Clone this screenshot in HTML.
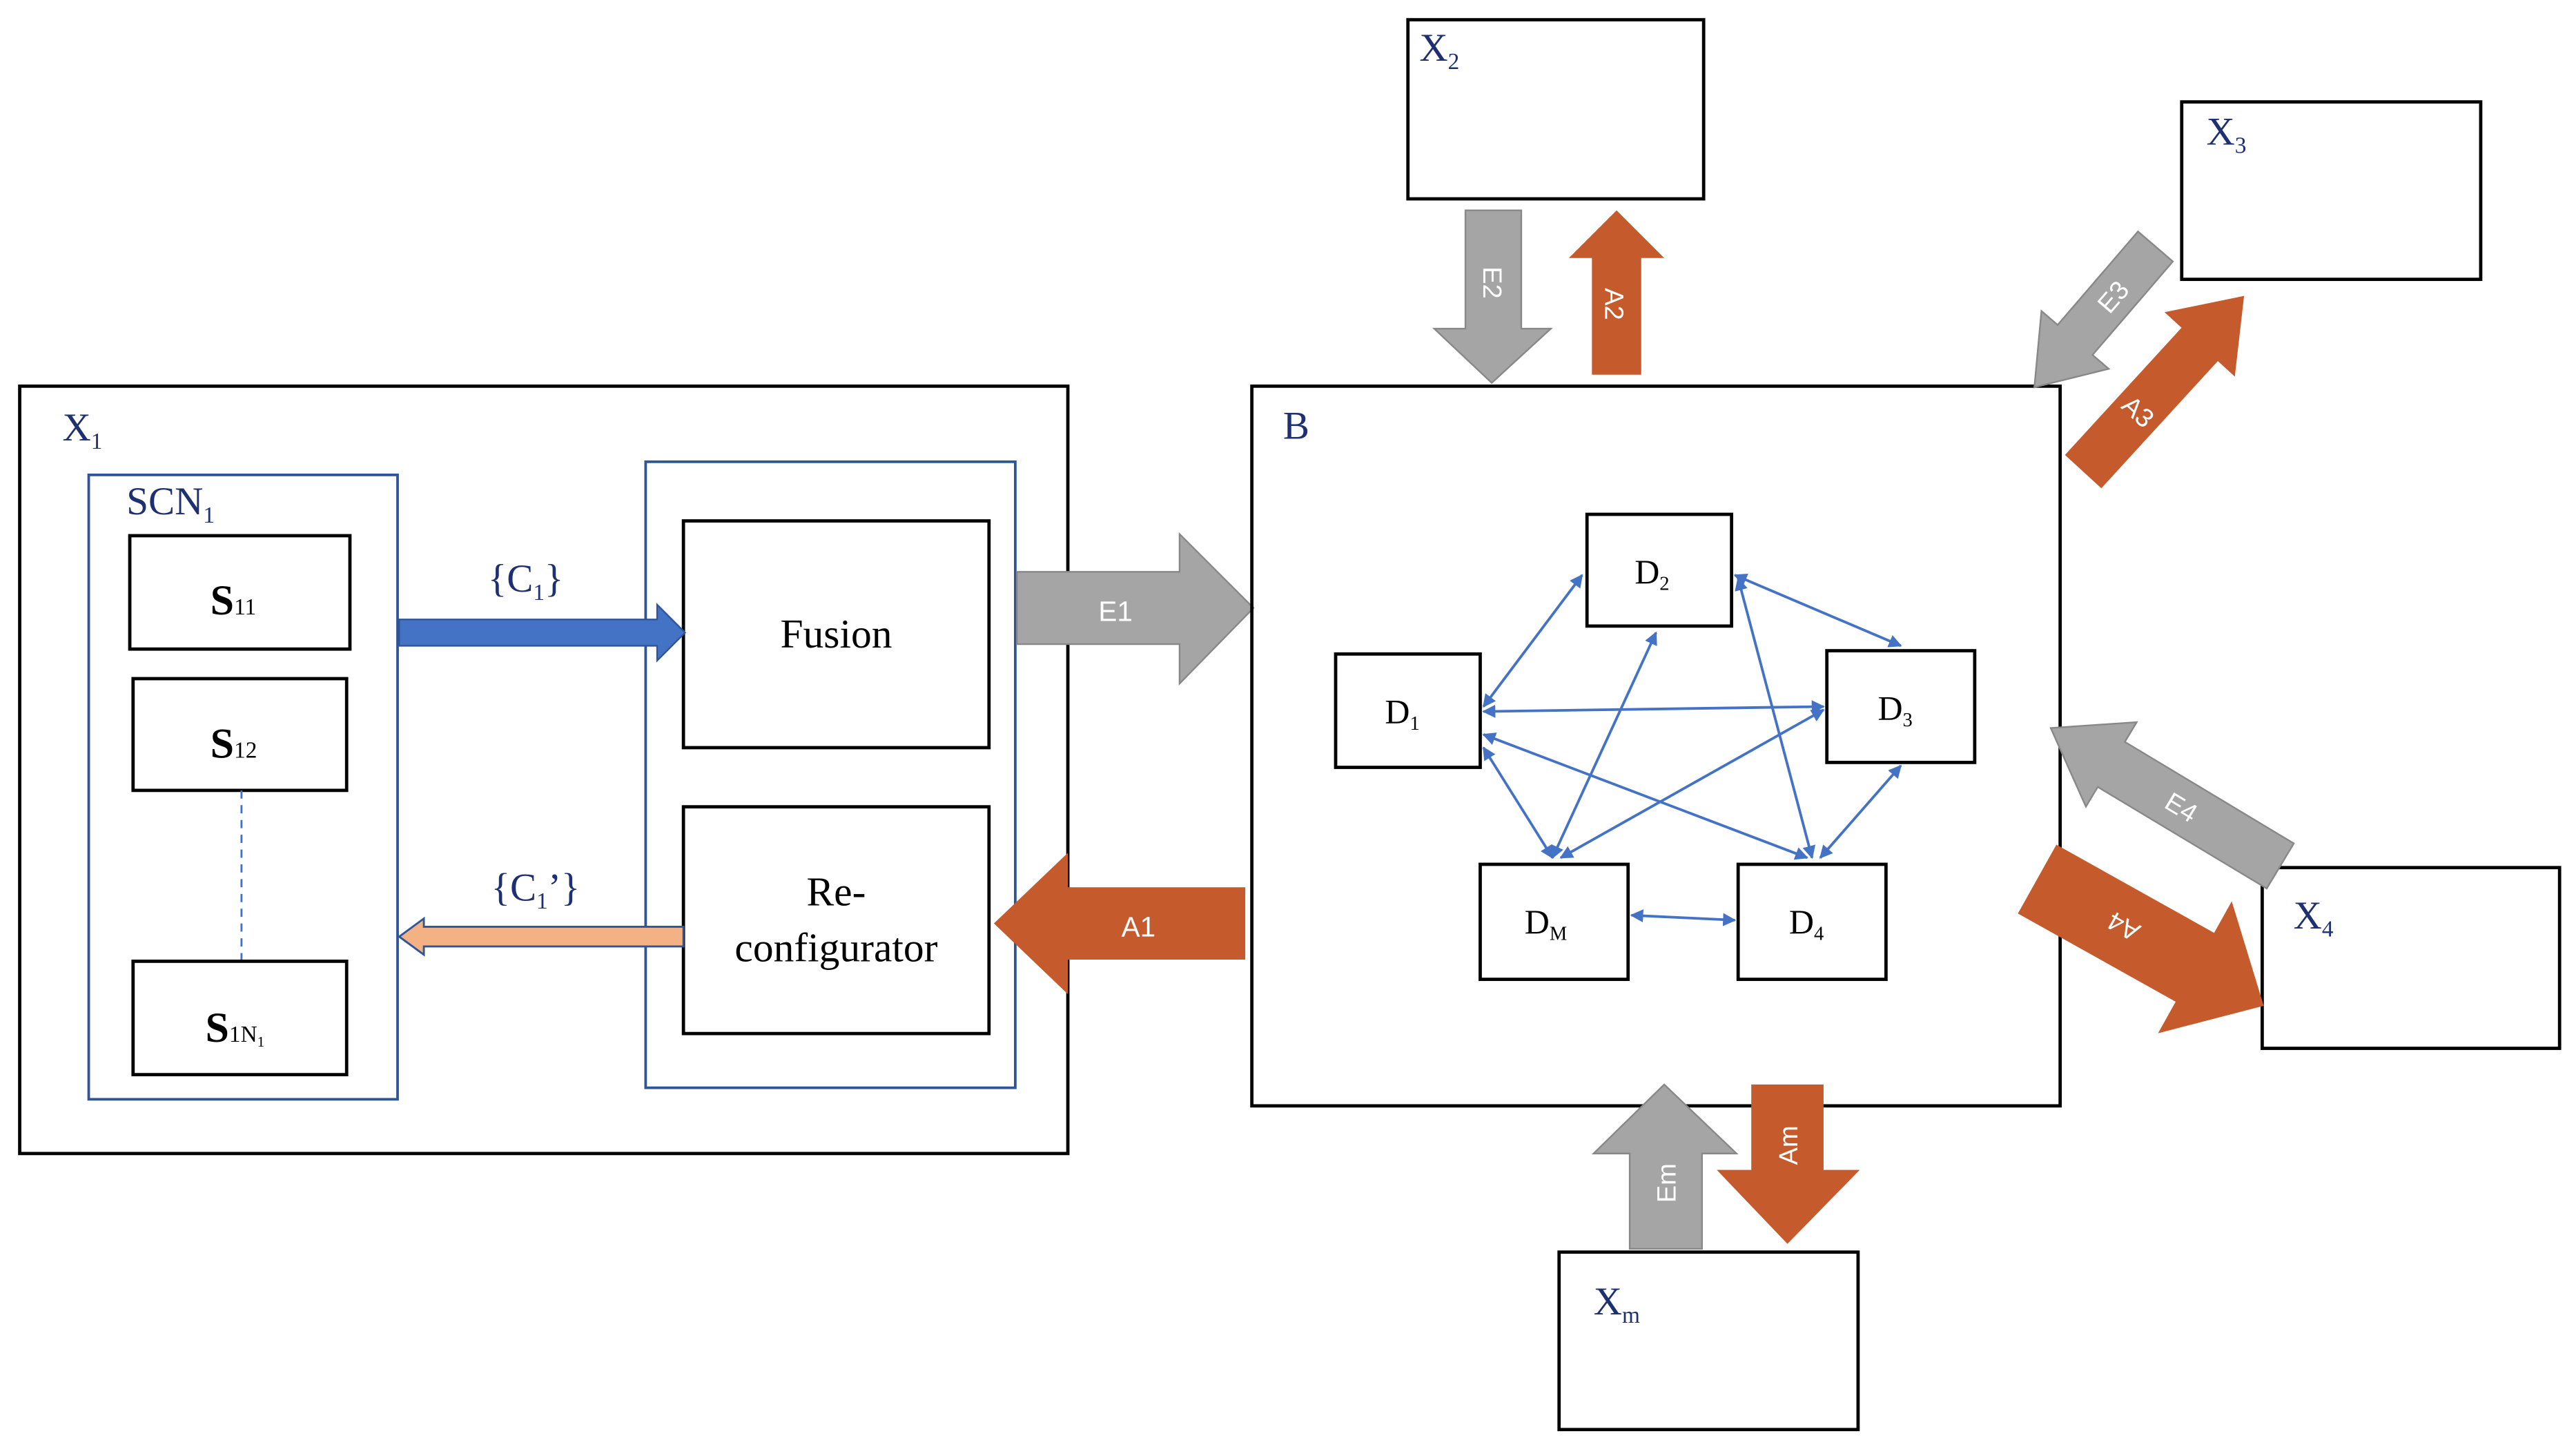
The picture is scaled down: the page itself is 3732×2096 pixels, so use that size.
<!DOCTYPE html>
<html><head><meta charset="utf-8"><style>html,body{margin:0;padding:0;background:#fff}svg{display:block}</style></head>
<body>
<svg width="3732" height="2096" viewBox="0 0 1568 880.6" xmlns="http://www.w3.org/2000/svg" font-family="'Liberation Serif', serif">
<defs>
<marker id="ah" viewBox="0 0 10 10" refX="9" refY="5" markerWidth="5" markerHeight="5" orient="auto-start-reverse"><path d="M0,0 L10,5 L0,10 z" fill="#4472C4"/></marker>
</defs>
<rect width="1568" height="880.6" fill="#fff"/>
<!-- X1 -->
<rect x="12" y="235" width="638" height="467" fill="none" stroke="#000" stroke-width="2"/>
<text x="38" y="268" font-size="24" fill="#1F3070">X<tspan font-size="14" dy="5">1</tspan></text>
<rect x="54" y="289" width="188" height="380" fill="none" stroke="#2F5597" stroke-width="1.6"/>
<text x="77" y="313" font-size="24" fill="#1F3070">SCN<tspan font-size="14" dy="5">1</tspan></text>
<rect x="79" y="326" width="134" height="69" fill="none" stroke="#000" stroke-width="2"/>
<text x="128" y="374" font-size="26" font-weight="bold">S<tspan font-size="14" font-weight="normal">11</tspan></text>
<rect x="81" y="413" width="130" height="68" fill="none" stroke="#000" stroke-width="2"/>
<text x="128" y="461" font-size="26" font-weight="bold">S<tspan font-size="14" font-weight="normal">12</tspan></text>
<line x1="147" y1="481" x2="147" y2="585" stroke="#4472C4" stroke-width="1.2" stroke-dasharray="5,4"/>
<rect x="81" y="585" width="130" height="69" fill="none" stroke="#000" stroke-width="2"/>
<text x="125" y="634" font-size="26" font-weight="bold">S<tspan font-size="14" font-weight="normal">1N<tspan font-size="9" dy="3">1</tspan></tspan></text>
<rect x="393" y="281" width="225" height="381" fill="none" stroke="#2F5597" stroke-width="1.6"/>
<rect x="416" y="317" width="186" height="138" fill="none" stroke="#000" stroke-width="2"/>
<text x="509" y="394" font-size="25" text-anchor="middle">Fusion</text>
<rect x="416" y="491" width="186" height="138" fill="none" stroke="#000" stroke-width="2"/>
<text x="509" y="551" font-size="25" text-anchor="middle">Re-</text>
<text x="509" y="585" font-size="25" text-anchor="middle">configurator</text>
<!-- C1 arrow -->
<polygon points="243,377 400,377 400,368 417,385 400,402 400,393 243,393" fill="#4472C4" stroke="#2F5597" stroke-width="1"/>
<text x="297" y="360" font-size="24" fill="#1F3070">{C<tspan font-size="14" dy="5">1</tspan><tspan dy="-5">}</tspan></text>
<polygon points="416,564 258,564 258,559 243,570 258,581 258,576 416,576" fill="#F4B183" stroke="#2F5597" stroke-width="1.2"/>
<text x="299" y="548" font-size="24" fill="#1F3070">{C<tspan font-size="14" dy="5">1</tspan><tspan dy="-5">’}</tspan></text>
<!-- E1 -->
<polygon points="619,348 718,348 718,325 763,370 718,416 718,392 619,392" fill="#A5A5A5" stroke="#888" stroke-width="1"/>
<text x="679" y="378" font-size="17" fill="#fff" font-family="'Liberation Sans', sans-serif" text-anchor="middle">E1</text>
<!-- A1 -->
<polygon points="758,540 650,540 650,519 605,562 650,605 650,584 758,584" fill="#C55A2D"/>
<text x="693" y="570" font-size="17" fill="#fff" font-family="'Liberation Sans', sans-serif" text-anchor="middle">A1</text>
<!-- B -->
<rect x="762" y="235" width="492" height="438" fill="none" stroke="#000" stroke-width="2"/>
<text x="781" y="267" font-size="24" fill="#1F3070">B</text>
<!-- X2 -->
<rect x="857" y="12" width="180" height="109" fill="none" stroke="#000" stroke-width="2"/>
<text x="864" y="37" font-size="24" fill="#1F3070">X<tspan font-size="14" dy="5">2</tspan></text>
<polygon points="892,128 926,128 926,200 944,200 908,233 873,200 892,200" fill="#A5A5A5" stroke="#888" stroke-width="1"/>
<text transform="translate(903,172) rotate(90)" font-size="16" fill="#fff" font-family="'Liberation Sans', sans-serif" text-anchor="middle">E2</text>
<polygon points="969,228 999,228 999,157 1013,157 984,128 955,157 969,157" fill="#C55A2D"/>
<text transform="translate(977,185) rotate(90)" font-size="16" fill="#fff" font-family="'Liberation Sans', sans-serif" text-anchor="middle">A2</text>
<!-- X3 -->
<rect x="1328" y="62" width="182" height="108" fill="none" stroke="#000" stroke-width="2"/>
<text x="1343" y="88" font-size="24" fill="#1F3070">X<tspan font-size="14" dy="5">3</tspan></text>
<g transform="translate(1312,150) rotate(130.7)">
<polygon points="0,-14 75,-14 75,-27 113,0 75,27 75,14 0,14" fill="#A5A5A5" stroke="#888" stroke-width="1"/>
<text x="40" y="6" font-size="16" fill="#fff" font-family="'Liberation Sans', sans-serif" text-anchor="middle" transform="rotate(180,40,0)">E3</text>
</g>
<g transform="translate(1268,287) rotate(-47.5)">
<polygon points="0,-15 105,-15 105,-29 145,0 105,29 105,15 0,15" fill="#C55A2D"/>
<text x="50" y="6" font-size="16" fill="#fff" font-family="'Liberation Sans', sans-serif" text-anchor="middle" transform="rotate(90,50,0)">A3</text>
</g>
<!-- X4 -->
<rect x="1377" y="528" width="181" height="110" fill="none" stroke="#000" stroke-width="2"/>
<text x="1396" y="565" font-size="24" fill="#1F3070">X<tspan font-size="14" dy="5">4</tspan></text>
<g transform="translate(1388,527) rotate(211)">
<polygon points="0,-16 120,-16 120,-30 163,0 120,30 120,16 0,16" fill="#A5A5A5" stroke="#888" stroke-width="1"/>
<text x="70" y="6" font-size="16" fill="#fff" font-family="'Liberation Sans', sans-serif" text-anchor="middle" transform="rotate(180,70,0)">E4</text>
</g>
<g transform="translate(1240,535) rotate(29.2)">
<polygon points="0,-24 110,-24 110,-46 158,0 110,46 110,24 0,24" fill="#C55A2D"/>
<text x="60" y="6" font-size="16" fill="#fff" font-family="'Liberation Sans', sans-serif" text-anchor="middle" transform="rotate(180,60,0)">A4</text>
</g>
<!-- Xm -->
<rect x="949" y="762" width="182" height="108" fill="none" stroke="#000" stroke-width="2"/>
<text x="970" y="800" font-size="24" fill="#1F3070">X<tspan font-size="14" dy="5">m</tspan></text>
<polygon points="992,760 1036,760 1036,702 1057,702 1013,660 970,702 992,702" fill="#A5A5A5" stroke="#888" stroke-width="1"/>
<text transform="translate(1020,720) rotate(-90)" font-size="16" fill="#fff" font-family="'Liberation Sans', sans-serif" text-anchor="middle">Em</text>
<polygon points="1066,660 1110,660 1110,712 1132,712 1088,757 1045,712 1066,712" fill="#C55A2D"/>
<text transform="translate(1094,697) rotate(-90)" font-size="16" fill="#fff" font-family="'Liberation Sans', sans-serif" text-anchor="middle">Am</text>
<!-- D nodes -->
<g stroke="#000" stroke-width="2" fill="none">
<rect x="966" y="313" width="88" height="68"/>
<rect x="813" y="398" width="88" height="69"/>
<rect x="1112" y="396" width="90" height="68"/>
<rect x="901" y="526" width="90" height="70"/>
<rect x="1058" y="526" width="90" height="70"/>
</g>
<g font-size="21">
<text x="995" y="355">D<tspan font-size="12" dy="4">2</tspan></text>
<text x="843" y="440">D<tspan font-size="12" dy="4">1</tspan></text>
<text x="1143" y="438">D<tspan font-size="12" dy="4">3</tspan></text>
<text x="928" y="568">D<tspan font-size="12" dy="4">M</tspan></text>
<text x="1089" y="568">D<tspan font-size="12" dy="4">4</tspan></text>
</g>
<g stroke="#4472C4" stroke-width="1.6" marker-start="url(#ah)" marker-end="url(#ah)">
<line x1="903" y1="430" x2="963" y2="350"/>
<line x1="903" y1="433" x2="1110" y2="430"/>
<line x1="903" y1="447" x2="1100" y2="522"/>
<line x1="903" y1="455" x2="945" y2="522"/>
<line x1="1008" y1="385" x2="945" y2="522"/>
<line x1="1056" y1="350" x2="1157" y2="393"/>
<line x1="1058" y1="352" x2="1103" y2="522"/>
<line x1="1110" y1="432" x2="950" y2="522"/>
<line x1="1157" y1="466" x2="1108" y2="522"/>
<line x1="993" y1="557" x2="1056" y2="560"/>
</g>
</svg>
</body></html>
